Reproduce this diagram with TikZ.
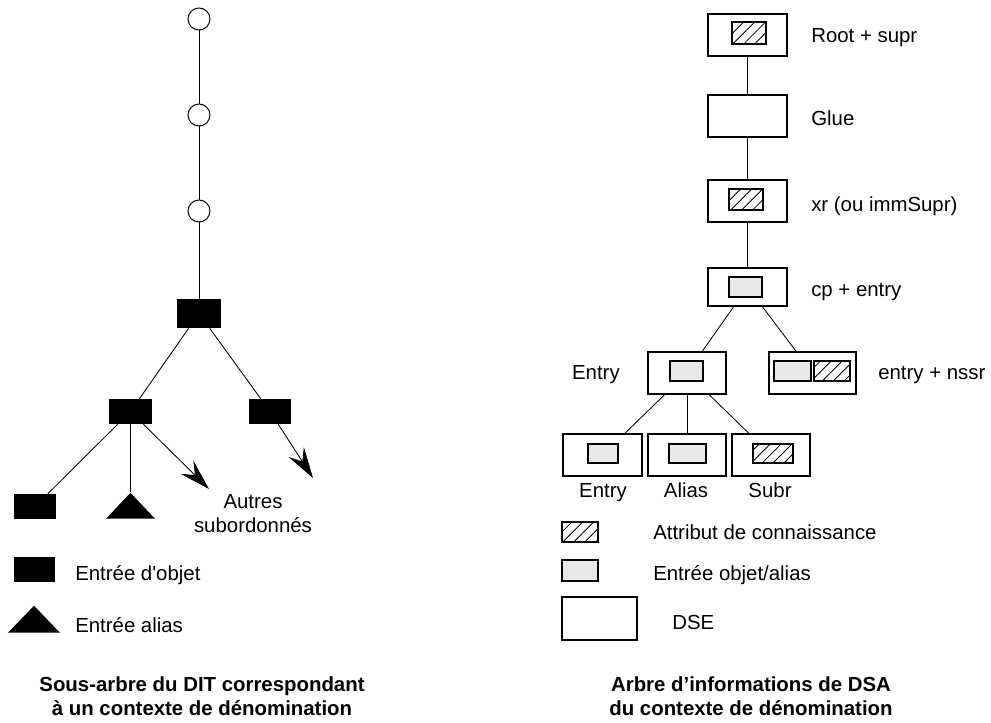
\documentclass[tikz,border=0pt]{standalone}
\usepackage{fontspec}
\setmainfont{Liberation Sans}
\usetikzlibrary{shapes.geometric,arrows.meta,patterns.meta}

\begin{document}
\begin{tikzpicture}[x=0.025cm,y=-0.025cm,
    every node/.style={font=\fontsize{14.5}{17}\selectfont},
    ring/.style={draw, circle, minimum size=0.55cm, inner sep=0pt, line width=0.7pt},
    objet/.style={fill=black, inner sep=0pt, minimum width=1.05cm, minimum height=0.625cm},
    alias/.style={fill=black, isosceles triangle, shape border rotate=90,
        isosceles triangle stretches, inner sep=0pt, anchor=apex},
    dse/.style={draw, line width=0.8pt, inner sep=0pt, minimum width=1.975cm, minimum height=1.05cm},
    grise/.style={draw, line width=0.8pt, fill=gray!18, inner sep=0pt, minimum width=0.85cm, minimum height=0.5cm},
    hachure/.style={draw, line width=0.8pt, pattern={Lines[angle=45,distance=5.5pt,line width=0.6pt]},
        inner sep=0pt, minimum width=0.85cm, minimum height=0.55cm},
    lbl/.style={anchor=base west, inner sep=0pt},
    fleche/.style={-{Stealth[length=22pt,width=13pt,inset=8pt]}},
    titre/.style={font=\fontsize{14.5}{17}\selectfont\bfseries, align=center, anchor=base, inner sep=0pt},
    lien/.style={line width=0.6pt}]

\useasboundingbox[fill=white] (0,0) rectangle (991,722);

% Sous-arbre du DIT
\node [ring] (C1) at (199,19){};
\node [ring] (C2) at (199,115){};
\node [ring] (C3) at (199,211){};
\node [objet, minimum width=1.075cm, minimum height=0.725cm] (N0) at (199,313.5){};
\node [objet] (N1) at (130.5,411.5){};
\node [objet] (N2) at (270,411.5){};
\node [objet] (N3) at (35,506.5){};
\node [alias, minimum width=1.225cm, minimum height=0.65cm] (A1) at (130.5,492){};
\coordinate (F1) at (209,489);
\coordinate (F2) at (313,478);

\draw [lien] (C1) -- (C2) -- (C3) -- (N0);
\draw [lien] (N0) -- (N1);
\draw [lien] (N0) -- (N2);
\draw [lien] (N1) -- (N3);
\draw [lien] (N1.south) -- (A1.apex);
\draw [lien, fleche] (N1) -- (F1);
\draw [lien, fleche] (N2) -- (F2);

\node [align=center, anchor=base, inner sep=0pt] (S) at (253,532) {Autres\\subordonnés};

% Legende gauche
\node [objet, minimum width=1.025cm] (L1) at (34.5,569.5){};
\node [lbl] (L1t) at (75,580) {Entrée d\textquotesingle objet};
\node [alias, minimum width=1.3cm, minimum height=0.675cm] (L2) at (34,605){};
\node [lbl] (L2t) at (75,632) {Entrée alias};

\node [titre] (T1) at (202,715) {Sous-arbre du DIT correspondant\\à un contexte de dénomination};

% Arbre d'informations de DSA
\node [dse] (D1) at (747.5,35){};
\node [hachure] (H1) at (749,33){};
\node [dse] (D2) at (747.5,116){};
\node [dse] (D3) at (747.5,201){};
\node [hachure, minimum height=0.525cm] (H3) at (746,199.5){};
\node [dse, minimum height=0.95cm] (D4) at (747.5,287){};
\node [grise, minimum width=0.825cm] (G4) at (745.5,287){};

\node [dse, minimum width=1.95cm] (D5) at (687,373){};
\node [grise, minimum width=0.825cm] (G5) at (686.5,371){};
\node [dse, minimum width=2.175cm] (D6) at (812.5,373){};
\node [grise, minimum width=0.925cm] (G6) at (792.5,371){};
\node [hachure, minimum width=0.9cm, minimum height=0.5cm] (H6) at (832,371){};

\node [dse] (D7) at (602.5,455){};
\node [grise, minimum width=0.75cm, minimum height=0.475cm] (G7) at (603,453.5){};
\node [dse, minimum width=1.95cm] (D8) at (687,455){};
\node [grise, minimum width=0.925cm, minimum height=0.475cm] (G8) at (687.5,453.5){};
\node [dse, minimum width=1.95cm] (D9) at (771,455){};
\node [hachure, minimum width=1cm, minimum height=0.475cm] (H9) at (773,453.5){};

\draw [lien] (D1) -- (D2) -- (D3) -- (D4);
\draw [lien] (D4) -- (D5);
\draw [lien] (D4) -- (D6);
\draw [lien] (D5) -- (D7);
\draw [lien] (D5) -- (D8);
\draw [lien] (D5) -- (D9);

\node [lbl] (E1) at (811,43) {Root + supr};
\node [lbl] (E2) at (811,126) {Glue};
\node [lbl] (E3) at (811,211) {xr (ou immSupr)};
\node [lbl] (E4) at (811,296) {cp + entry};
\node [lbl, anchor=base east] (E5) at (620,379) {Entry};
\node [lbl] (E6) at (878,379) {entry + nssr};
\node [lbl, anchor=base] (E7) at (603,497) {Entry};
\node [lbl, anchor=base] (E8) at (686,497) {Alias};
\node [lbl, anchor=base] (E9) at (770,497) {Subr};

% Legende droite
\node [hachure, minimum width=0.9cm, minimum height=0.5cm] (L3) at (580,532){};
\node [lbl] (L3t) at (653,539) {Attribut de connaissance};
\node [grise, minimum width=0.9cm, minimum height=0.525cm] (L4) at (580,570.5){};
\node [lbl] (L4t) at (653,580) {Entrée objet/alias};
\node [dse, minimum width=1.875cm, minimum height=1.075cm] (L5) at (599.5,618.5){};
\node [lbl] (L5t) at (672,629) {DSE};

\node [titre] (T2) at (751,715) {Arbre d’informations de DSA\\du contexte de dénomination};

\end{tikzpicture}
\end{document}
